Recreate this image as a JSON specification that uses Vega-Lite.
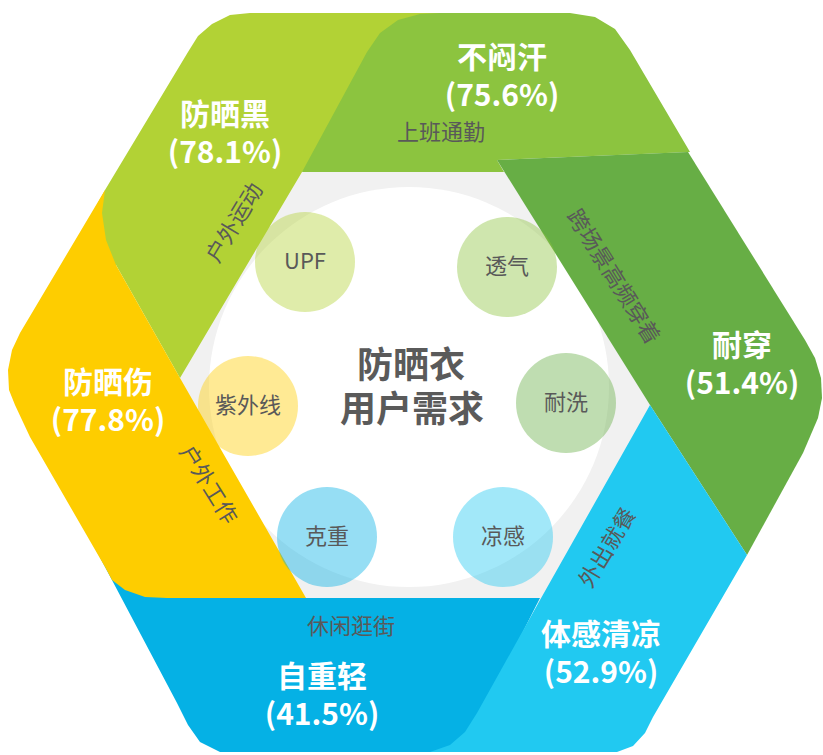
{
  "$schema": "https://vega.github.io/schema/vega-lite/v6.json",
  "width": 823,
  "height": 755,
  "autosize": {"type": "fit", "contains": "padding"},
  "padding": 0,
  "background": "#ffffff",
  "config": {"view": {"stroke": null}, "text": {"font": "Noto Sans CJK SC", "baseline": "middle", "align": "center"}},
  "datasets": {
    "gray": [
      {"i": 0, "x": 296, "y": 164}, {"i": 1, "x": 510, "y": 164}, {"i": 2, "x": 656, "y": 405},
      {"i": 3, "x": 545, "y": 604}, {"i": 4, "x": 301, "y": 604}, {"i": 5, "x": 172, "y": 378}
    ],
    "poly": [
      {"band": "b1", "i": 0, "x": 105, "y": 190}, {"band": "b1", "i": 1, "x": 188, "y": 52}, {"band": "b1", "i": 2, "x": 198, "y": 36},
      {"band": "b1", "i": 3, "x": 212, "y": 24}, {"band": "b1", "i": 4, "x": 230, "y": 15}, {"band": "b1", "i": 5, "x": 250, "y": 13},
      {"band": "b1", "i": 6, "x": 470, "y": 13}, {"band": "b1", "i": 7, "x": 302, "y": 172}, {"band": "b1", "i": 8, "x": 180, "y": 378},
      {"band": "b1", "i": 9, "x": 116, "y": 265}, {"band": "b1", "i": 10, "x": 50, "y": 290},

      {"band": "b2", "i": 0, "x": 302, "y": 172}, {"band": "b2", "i": 1, "x": 367, "y": 52}, {"band": "b2", "i": 2, "x": 380, "y": 33},
      {"band": "b2", "i": 3, "x": 398, "y": 20}, {"band": "b2", "i": 4, "x": 420, "y": 14}, {"band": "b2", "i": 5, "x": 440, "y": 13},
      {"band": "b2", "i": 6, "x": 570, "y": 13}, {"band": "b2", "i": 7, "x": 595, "y": 17}, {"band": "b2", "i": 8, "x": 615, "y": 29},
      {"band": "b2", "i": 9, "x": 630, "y": 50}, {"band": "b2", "i": 10, "x": 690, "y": 152}, {"band": "b2", "i": 11, "x": 497, "y": 160},
      {"band": "b2", "i": 12, "x": 504, "y": 172},

      {"band": "b3", "i": 0, "x": 497, "y": 160}, {"band": "b3", "i": 1, "x": 688, "y": 152}, {"band": "b3", "i": 2, "x": 805, "y": 340},
      {"band": "b3", "i": 3, "x": 815, "y": 358}, {"band": "b3", "i": 4, "x": 821, "y": 378}, {"band": "b3", "i": 5, "x": 822, "y": 398},
      {"band": "b3", "i": 6, "x": 818, "y": 418}, {"band": "b3", "i": 7, "x": 803, "y": 453}, {"band": "b3", "i": 8, "x": 747, "y": 555},
      {"band": "b3", "i": 9, "x": 650, "y": 405},

      {"band": "b4", "i": 0, "x": 130, "y": 530}, {"band": "b4", "i": 1, "x": 200, "y": 560}, {"band": "b4", "i": 2, "x": 290, "y": 598},
      {"band": "b4", "i": 3, "x": 540, "y": 598}, {"band": "b4", "i": 4, "x": 462, "y": 752}, {"band": "b4", "i": 5, "x": 220, "y": 752},
      {"band": "b4", "i": 6, "x": 200, "y": 742}, {"band": "b4", "i": 7, "x": 188, "y": 725}, {"band": "b4", "i": 8, "x": 177, "y": 703},
      {"band": "b4", "i": 9, "x": 95, "y": 548},

      {"band": "b5", "i": 0, "x": 650, "y": 405}, {"band": "b5", "i": 1, "x": 747, "y": 555}, {"band": "b5", "i": 2, "x": 653, "y": 717},
      {"band": "b5", "i": 3, "x": 645, "y": 733}, {"band": "b5", "i": 4, "x": 633, "y": 746}, {"band": "b5", "i": 5, "x": 617, "y": 752},
      {"band": "b5", "i": 6, "x": 430, "y": 752}, {"band": "b5", "i": 7, "x": 450, "y": 745}, {"band": "b5", "i": 8, "x": 465, "y": 732},
      {"band": "b5", "i": 9, "x": 477, "y": 713}, {"band": "b5", "i": 10, "x": 540, "y": 600},

      {"band": "b6", "i": 0, "x": 105, "y": 190}, {"band": "b6", "i": 1, "x": 102, "y": 213}, {"band": "b6", "i": 2, "x": 106, "y": 240},
      {"band": "b6", "i": 3, "x": 116, "y": 265}, {"band": "b6", "i": 4, "x": 180, "y": 378}, {"band": "b6", "i": 5, "x": 306, "y": 598},
      {"band": "b6", "i": 6, "x": 167, "y": 598}, {"band": "b6", "i": 7, "x": 145, "y": 597}, {"band": "b6", "i": 8, "x": 125, "y": 590},
      {"band": "b6", "i": 9, "x": 112, "y": 580}, {"band": "b6", "i": 10, "x": 105, "y": 567}, {"band": "b6", "i": 11, "x": 30, "y": 437},
      {"band": "b6", "i": 12, "x": 15, "y": 405}, {"band": "b6", "i": 13, "x": 9, "y": 390}, {"band": "b6", "i": 14, "x": 8, "y": 370},
      {"band": "b6", "i": 15, "x": 12, "y": 350}, {"band": "b6", "i": 16, "x": 20, "y": 333}
    ],
    "bubbles": [
      {"t": "UPF", "g": "b1", "x": 305, "y": 262},
      {"t": "透气", "g": "b2", "x": 507, "y": 267},
      {"t": "耐洗", "g": "b3", "x": 566, "y": 403},
      {"t": "凉感", "g": "b5", "x": 503, "y": 537},
      {"t": "克重", "g": "b4", "x": 327, "y": 537},
      {"t": "紫外线", "g": "b6", "x": 248, "y": 406}
    ],
    "labels": [
      {"name": "防晒黑", "pct": 78.1, "x": 225, "y": 135},
      {"name": "不闷汗", "pct": 75.6, "x": 502, "y": 78},
      {"name": "耐穿", "pct": 51.4, "x": 742, "y": 366},
      {"name": "体感清凉", "pct": 52.9, "x": 601, "y": 655},
      {"name": "自重轻", "pct": 41.5, "x": 322, "y": 697},
      {"name": "防晒伤", "pct": 77.8, "x": 108, "y": 403}
    ],
    "scenes": [
      {"t": "上班通勤", "dir": "h", "x": 441, "y": 133},
      {"t": "休闲逛街", "dir": "h", "x": 351, "y": 627},
      {"t": "户外运动", "dir": "up", "x": 235, "y": 223},
      {"t": "外出就餐", "dir": "up", "x": 608, "y": 548},
      {"t": "跨场景高频穿着", "dir": "down", "x": 613, "y": 277},
      {"t": "户外工作", "dir": "down", "x": 208, "y": 485}
    ],
    "title": [
      {"t": "防晒衣", "x": 411, "y": 367},
      {"t": "用户需求", "x": 412, "y": 411}
    ]
  },
  "encoding": {
    "x": {"field": "x", "type": "quantitative", "scale": {"domain": [0, 823], "nice": false, "zero": false}, "axis": null},
    "y": {"field": "y", "type": "quantitative", "scale": {"domain": [0, 755], "nice": false, "zero": false, "reverse": true}, "axis": null}
  },
  "layer": [
    {
      "data": {"name": "gray"},
      "mark": {"type": "line", "fill": "#f1f1f1", "strokeWidth": 0, "strokeOpacity": 0},
      "encoding": {"order": {"field": "i", "type": "quantitative"}}
    },
    {
      "data": {"values": [{"x": 409, "y": 387}]},
      "mark": {"type": "circle", "size": 160000, "color": "#ffffff", "opacity": 1},
      "encoding": {}
    },
    {
      "data": {"name": "poly"},
      "mark": {"type": "line", "strokeWidth": 0, "strokeOpacity": 0},
      "encoding": {
        "fill": {"field": "band", "type": "nominal", "legend": null,
          "scale": {"domain": ["b1", "b2", "b3", "b4", "b5", "b6"], "range": ["#b2d235", "#8cc43f", "#67ae45", "#05b1e5", "#21c9f1", "#fecd00"]}},
        "detail": {"field": "band"},
        "order": {"field": "i", "type": "quantitative"}
      }
    },
    {
      "data": {"name": "bubbles"},
      "mark": {"type": "circle", "size": 10000, "opacity": 0.42, "strokeWidth": 0},
      "encoding": {
        "fill": {"field": "g", "type": "nominal", "legend": null}
      }
    },
    {
      "data": {"name": "bubbles"},
      "mark": {"type": "text", "fontSize": 22, "color": "#595959"},
      "encoding": {"text": {"field": "t"}}
    },
    {
      "data": {"name": "labels"},
      "mark": {"type": "text", "fontSize": 30, "fontWeight": "bold", "color": "#ffffff", "dy": -19},
      "encoding": {"text": {"field": "name"}}
    },
    {
      "data": {"name": "labels"},
      "transform": [{"calculate": "'(' + format(datum.pct, '.1f') + '%)'", "as": "pl"}],
      "mark": {"type": "text", "fontSize": 30, "fontWeight": "bold", "color": "#ffffff", "dy": 19},
      "encoding": {"text": {"field": "pl"}}
    },
    {
      "data": {"name": "scenes"},
      "transform": [{"filter": "datum.dir == 'h'"}],
      "mark": {"type": "text", "fontSize": 22, "color": "#595959"},
      "encoding": {"text": {"field": "t"}}
    },
    {
      "data": {"name": "scenes"},
      "transform": [{"filter": "datum.dir == 'up'"}],
      "mark": {"type": "text", "fontSize": 22, "color": "#595959", "angle": -59},
      "encoding": {"text": {"field": "t"}}
    },
    {
      "data": {"name": "scenes"},
      "transform": [{"filter": "datum.dir == 'down'"}],
      "mark": {"type": "text", "fontSize": 22, "color": "#595959", "angle": 58},
      "encoding": {"text": {"field": "t"}}
    },
    {
      "data": {"name": "title"},
      "mark": {"type": "text", "fontSize": 36, "fontWeight": "bold", "color": "#5a5a5a"},
      "encoding": {"text": {"field": "t"}}
    }
  ]
}
